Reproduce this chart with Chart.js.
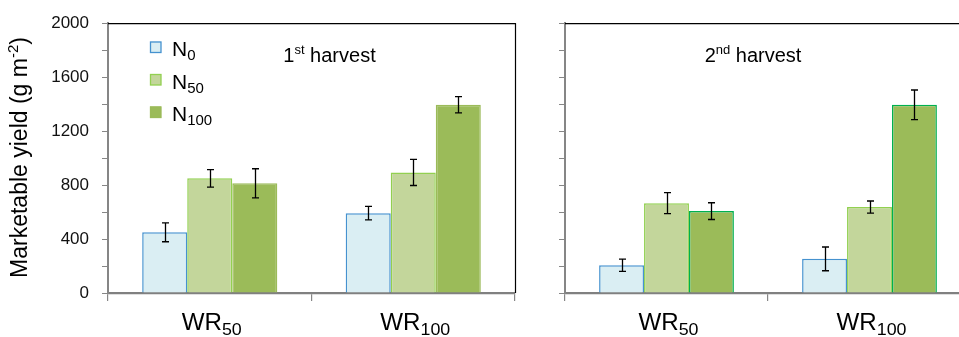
<!DOCTYPE html>
<html><head><meta charset="utf-8">
<script src="https://cdn.jsdelivr.net/npm/chart.js@4"></script>
<style>
html,body{margin:0;padding:0;background:#fff;overflow:hidden;width:959px;height:337px;}
#wrap{position:relative;width:959px;height:337px;overflow:hidden;background:#fff;}
canvas{position:absolute;top:0;}
#c1{left:0;width:520px;height:337px;}
#c2{left:480px;width:500px;height:337px;}
</style></head><body>
<div id="wrap"><canvas id="c1" width="520" height="337"></canvas><canvas id="c2" width="500" height="337"></canvas></div>
<script>
// ---- data ----
const categories = ['WR50', 'WR100'];
const seriesNames = ['N0', 'N50', 'N100'];
const yMin = 0, yMax = 2000, yStep = 200, yLabelStep = 400;

const harvest1N0 = [450, 592];
const harvest1N0Err = [70, 50];
const harvest1N50 = [850, 894];
const harvest1N50Err = [65, 97];
const harvest1N100 = [813, 1395];
const harvest1N100Err = [108, 60];

const harvest2N0 = [206, 253];
const harvest2N0Err = [45, 88];
const harvest2N50 = [666, 637];
const harvest2N50Err = [78, 45];
const harvest2N100 = [607, 1395];
const harvest2N100Err = [62, 110];

// ---- styles ----
const FONT = "'Liberation Sans', Arial, sans-serif";
const fills = ['#DAEEF3', '#C3D69B', '#9BBB59'];
const borders1 = ['#4592CF', '#92D050', '#9BBB59'];
const borders2 = ['#4592CF', '#92D050', '#00B050'];

function splitLabel(s) {
  const m = s.match(/^([A-Za-z]+)(\d*)$/);
  return m ? [m[1], m[2]] : [s, ''];
}

function drawRich(ctx, parts, x, y, align, sx) {
  sx = sx || 1;
  let w = 0;
  parts.forEach(p => { ctx.font = p.size + 'px ' + FONT; p.w = ctx.measureText(p.t).width * sx; w += p.w; });
  let cx = align === 'center' ? x - w / 2 : x;
  ctx.textAlign = 'left';
  ctx.textBaseline = 'alphabetic';
  parts.forEach(p => {
    ctx.font = p.size + 'px ' + FONT;
    ctx.save();
    ctx.translate(cx, y + (p.dy || 0));
    ctx.scale(sx, 1);
    ctx.fillText(p.t, 0, 0);
    ctx.restore();
    cx += p.w;
  });
}

const errorBars = {
  id: 'errorBars',
  afterDatasetsDraw(chart) {
    const ctx = chart.ctx, ys = chart.scales.y;
    ctx.save();
    ctx.strokeStyle = '#000';
    ctx.lineWidth = 1.3;
    chart.data.datasets.forEach((ds, di) => {
      const meta = chart.getDatasetMeta(di);
      meta.data.forEach((bar, i) => {
        const v = ds.data[i], e = ds.errors[i];
        const x = Math.round(bar.x) + 0.5;
        const y1 = ys.getPixelForValue(v + e), y2 = ys.getPixelForValue(v - e);
        ctx.beginPath();
        ctx.moveTo(x, y1); ctx.lineTo(x, y2);
        ctx.moveTo(x - 3.5, y1); ctx.lineTo(x + 3.5, y1);
        ctx.moveTo(x - 3.5, y2); ctx.lineTo(x + 3.5, y2);
        ctx.stroke();
      });
    });
    ctx.restore();
  }
};

const decorations = {
  id: 'decorations',
  afterDraw(chart, args, o) {
    const ctx = chart.ctx, a = chart.chartArea, xs = chart.scales.x;
    ctx.save();
    ctx.strokeStyle = '#000';
    ctx.lineWidth = 1.2;
    ctx.beginPath();
    ctx.moveTo(a.left, a.top + 0.5); ctx.lineTo(a.right + 1, a.top + 0.5);
    if (o.rightFrame) { ctx.moveTo(a.right + 0.5, a.top); ctx.lineTo(a.right + 0.5, a.bottom); }
    ctx.stroke();
    ctx.fillStyle = '#000';
    drawRich(ctx, [{t: o.titleNum, size: 20}, {t: o.titleSup, size: 13, dy: -8}, {t: ' harvest', size: 20}], o.titleX, 62, 'center');
    categories.forEach((c, i) => {
      const [main, sub] = splitLabel(c);
      drawRich(ctx, [{t: main, size: 23}, {t: sub, size: 17, dy: 5}], xs.getPixelForValue(i) + 2, 330, 'center', 1.05);
    });
    if (o.legend) {
      const rowsY = [47, 79.5, 112];
      seriesNames.forEach((n, i) => {
        const cy = rowsY[i];
        ctx.fillStyle = fills[i];
        ctx.fillRect(150, cy - 5.5, 11, 11);
        ctx.strokeStyle = borders1[i];
        ctx.lineWidth = 1.3;
        ctx.strokeRect(150.5, cy - 5, 10.5, 10.5);
        ctx.fillStyle = '#000';
        const [main, sub] = splitLabel(n);
        drawRich(ctx, [{t: main, size: 21}, {t: sub, size: 15, dy: 4}], 172, cy + 9, 'left');
      });
    }
    if (o.yTitle) {
      ctx.translate(27, 157.5);
      ctx.rotate(-Math.PI / 2);
      ctx.fillStyle = '#000';
      drawRich(ctx, [{t: 'Marketable yield (g m', size: 23}, {t: '-2', size: 15, dy: -9}, {t: ')', size: 23}], 0, 0, 'center');
    }
    ctx.restore();
  }
};

function makeChart(id, series, errs, borders, cfg) {
  return new Chart(document.getElementById(id), {
    type: 'bar',
    data: {
      labels: categories,
      datasets: seriesNames.map((n, i) => ({
        label: n,
        data: series[i],
        errors: errs[i],
        backgroundColor: fills[i],
        borderColor: borders[i],
        borderWidth: 1.5,
        borderSkipped: 'start',
        categoryPercentage: 0.664,
        barPercentage: 1.0
      }))
    },
    options: {
      responsive: false,
      animation: false,
      layout: {padding: {top: 22, right: cfg.padRight, left: 0, bottom: 0}},
      plugins: {legend: {display: false}, tooltip: {enabled: false}, decorations: cfg.deco},
      scales: {
        x: {
          grid: {offset: true, drawOnChartArea: false, tickLength: 8, color: '#868686', lineWidth: 1.2},
          border: {color: '#808080', width: 2.2},
          ticks: {callback: () => ''},
          afterFit: s => { s.height = 44; }
        },
        y: {
          min: yMin, max: yMax,
          ticks: {
            stepSize: yStep, autoSkip: false, padding: 13, color: '#111',
            font: {family: FONT, size: 17},
            callback: v => (cfg.showYLabels && v % yLabelStep === 0) ? String(v) : ''
          },
          grid: {drawOnChartArea: false, tickLength: 6, color: '#868686', lineWidth: 1},
          border: {color: '#868686', width: 2},
          afterFit: s => { s.width = cfg.yWidth; }
        }
      }
    },
    plugins: [errorBars, decorations]
  });
}

makeChart('c1',
  [harvest1N0, harvest1N50, harvest1N100],
  [harvest1N0Err, harvest1N50Err, harvest1N100Err],
  borders1,
  {padRight: 5, yWidth: 108, showYLabels: true,
   deco: {rightFrame: true, legend: true, yTitle: true, titleNum: '1', titleSup: 'st', titleX: 329.5}});

makeChart('c2',
  [harvest2N0, harvest2N50, harvest2N100],
  [harvest2N0Err, harvest2N50Err, harvest2N100Err],
  borders2,
  {padRight: 9, yWidth: 85, showYLabels: false,
   deco: {rightFrame: false, legend: false, yTitle: false, titleNum: '2', titleSup: 'nd', titleX: 273}});
</script>
</body></html>
